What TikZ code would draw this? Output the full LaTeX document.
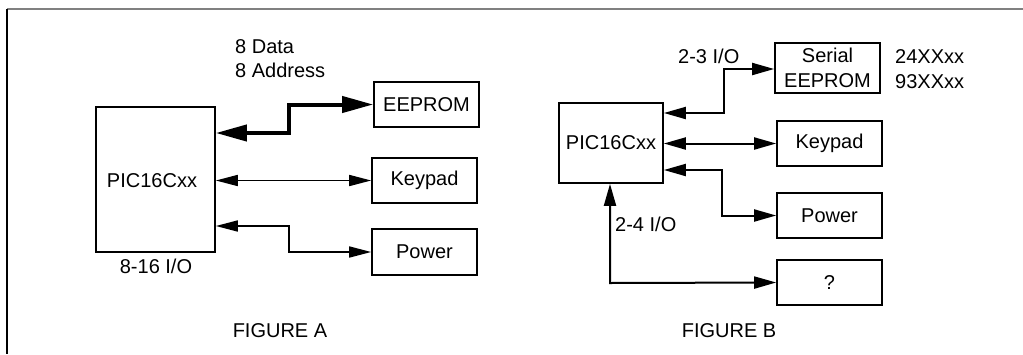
\documentclass[tikz,border=0pt]{standalone}
\usepackage{fontspec}
\setmainfont{Liberation Sans}
\usetikzlibrary{arrows.meta}
\begin{document}
\begin{tikzpicture}[x=1pt,y=-1pt,
  every node/.style={font=\fontsize{20}{25}\selectfont, inner sep=0pt},
  box/.style={draw, line width=1.6pt, align=center},
  boxb/.style={draw, line width=1.7pt, align=center},
  lbl/.style={anchor=base west},
  arrA/.style={line width=1.6pt, {Triangle[length=22pt,width=11pt]}-{Triangle[length=22pt,width=11pt]}},
  arrAthick/.style={line width=4pt, {Triangle[length=31pt,width=16pt]}-{Triangle[length=31pt,width=16pt]}},
  arrB/.style={line width=2pt, {Triangle[length=22pt,width=12pt]}-{Triangle[length=22pt,width=12pt]}}
]
\useasboundingbox (0,0) rectangle (1023,354);
% frame
\draw[line width=2pt, color=gray] (7,9) -- (1023,9);
\draw[line width=1.4pt] (7,9) -- (7,354);

% ---------- FIGURE A ----------
\node[box, minimum width=119pt, minimum height=145pt] (picA) at (155.5,179.5) {};
\node (picAt) at (152,181) {PIC16Cxx};
\node[box, minimum width=105pt, minimum height=45pt] (eepA) at (426.5,104.5) {EEPROM};
\node[box, minimum width=105pt, minimum height=45pt] (keyA) at (424.5,180.5) {Keypad};
\node[box, minimum width=105pt, minimum height=46pt] (powA) at (424.5,252) {Power};
\node[anchor=base] (ioA) at (156,273) {8-16 I/O};
\node[lbl] (dataA) at (235,53) {8 Data};
\node[lbl] (addrA) at (235,77) {8 Address};
\node[anchor=base] (figA) at (280,337) {FIGURE A};

\coordinate (a1) at (289,133);
\coordinate (a2) at (289,104.5);
\coordinate (a3) at (289,226);
\draw[arrAthick] (picA.east |- a1) -- (a1) -- (a2) -- (eepA.west);
\draw[arrA] (picA.east |- keyA.west) -- (keyA.west);
\draw[arrA] (picA.east |- a3) -- (a3) -- (a3 |- powA.west) -- (powA.west);

% ---------- FIGURE B ----------
\node[boxb, minimum width=104pt, minimum height=80pt] (picB) at (611,143) {PIC16Cxx};
\node[boxb, minimum width=105pt, minimum height=50pt] (eepB) at (827.5,68) {Serial\\EEPROM};
\node[boxb, minimum width=105pt, minimum height=45pt] (keyB) at (829.5,143.5) {Keypad};
\node[boxb, minimum width=105pt, minimum height=45pt] (powB) at (829.5,215.5) {Power};
\node[boxb, minimum width=105pt, minimum height=45pt] (qB) at (829.5,282.5) {?};
\node[lbl] (p24) at (895,63) {24XXxx};
\node[lbl] (p93) at (895,88) {93XXxx};
\node[lbl] (io23) at (678,63) {2-3 I/O};
\node[lbl] (io24) at (615,231) {2-4 I/O};
\node[anchor=base] (figB) at (729,337) {FIGURE B};

\coordinate (b1) at (724,113);
\coordinate (b2) at (724,69);
\coordinate (b3) at (722,170);
\coordinate (b4) at (610,283);
\draw[arrB] (picB.east |- b1) -- (b1) -- (b2) -- (eepB.west |- b2);
\draw[arrB] (picB.east |- keyB.west) -- (keyB.west);
\draw[arrB] (picB.east |- b3) -- (b3) -- (b3 |- powB.west) -- (powB.west);
\draw[arrB] (b4 |- picB.south) -- (b4) -- (qB.west);
\end{tikzpicture}
\end{document}
